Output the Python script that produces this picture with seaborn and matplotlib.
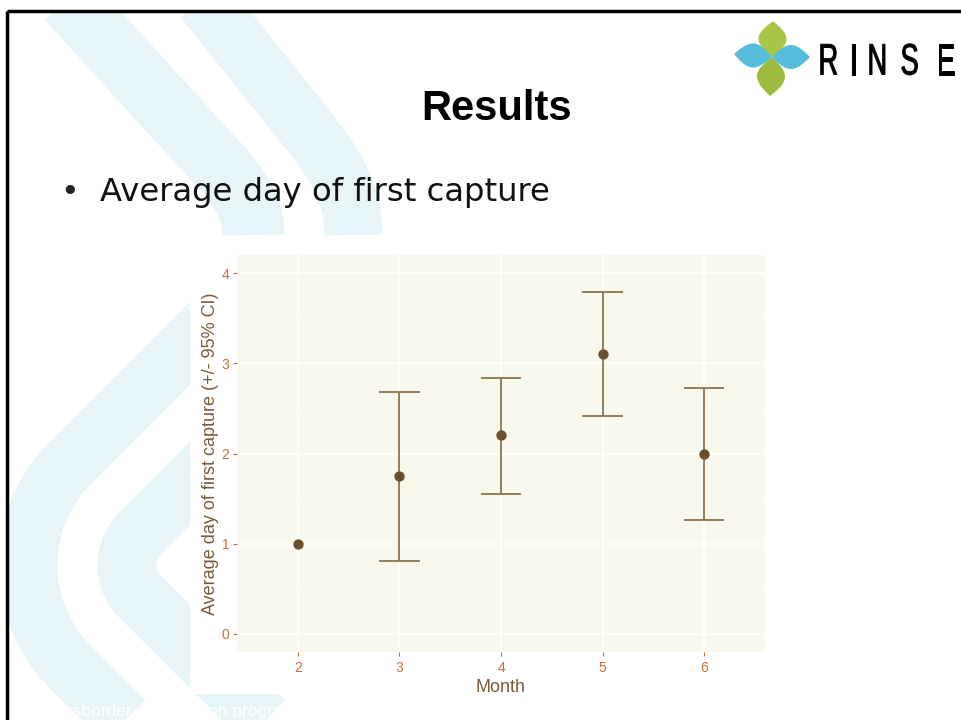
import numpy as np
import pandas as pd
import matplotlib.pyplot as plt
import seaborn as sns
from matplotlib.path import Path
from matplotlib.patches import PathPatch, Rectangle, Polygon
from matplotlib.textpath import TextPath
from matplotlib.font_manager import FontProperties
from matplotlib.transforms import Affine2D
from matplotlib.ticker import MultipleLocator

# Average day of first capture per month (+/- 95% CI); month 2 has no CI
months = ["2", "3", "4", "5", "6"]
mean_day = [1.0, 1.75, 2.2, 3.1, 2.0]
ci_low = [np.nan, 0.81, 1.55, 2.42, 1.26]
ci_high = [np.nan, 2.68, 2.84, 3.79, 2.73]
y_ticks = [0, 1, 2, 3, 4]

df = pd.DataFrame({"Month": months, "mean": mean_day, "low": ci_low, "high": ci_high})

sns.set_style("white")
plt.rcParams["font.family"] = ["Liberation Sans", "DejaVu Sans"]

fig = plt.figure(figsize=(9.61, 7.2), dpi=100)

# ---- slide background, drawn in pixel coordinates ----
bg = fig.add_axes([0, 0, 1, 1], zorder=0)
bg.set_xlim(0, 961)
bg.set_ylim(720, 0)
bg.axis("off")

band_col = "#E8F5F8"
px = 0.72  # points per pixel at dpi 100


def stroke(verts, codes, width, clip):
    p = PathPatch(Path(verts, codes), fill=False, edgecolor=band_col,
                  linewidth=width * px, capstyle="butt", joinstyle="round")
    bg.add_patch(p)
    p.set_clip_path(clip)


# two bands coming down from the top
top_clip = Rectangle((8, 11), 953, 709, transform=bg.transData)
C4 = Path.CURVE4
stroke([(14, -60), (187, 130), (223, 170), (253.5, 195), (253.5, 235)],
       [Path.MOVETO, Path.LINETO, C4, C4, C4], 62, top_clip)
stroke([(156, -60), (300, 120), (324, 150), (353.5, 185), (353.5, 235)],
       [Path.MOVETO, Path.LINETO, C4, C4, C4], 58, top_clip)

# chevron on the left, cut at the edge of the pasted chart
chev_clip = Polygon([(8, 11), (190, 11), (190, 694), (961, 694), (961, 720), (8, 720)],
                    closed=True, transform=bg.transData)
cx, cy = 172, 565
for r in (45, 144):
    th = np.radians(np.linspace(225, 135, 40))
    arc = np.column_stack([cx + r * np.cos(th), cy + r * np.sin(th)])
    up = arc[0] + 300 * np.array([1, -1])
    lo = arc[-1] + 300 * np.array([1, 1])
    verts = np.vstack([up, arc, lo])
    stroke(verts, [Path.MOVETO] + [Path.LINETO] * (len(verts) - 1), 59, chev_clip)

# footer text (white, mostly on the cyan bands)
bg.text(36, 716, "Crossborder cooperation programme", color="white",
        fontsize=12.5, va="baseline", ha="left")

# white area of the pasted chart picture
bg.add_patch(Rectangle((190, 250), 582, 444, facecolor="white", edgecolor="none"))

# slide border
bg.plot([7, 961], [11, 11], color="black", lw=2.5, solid_capstyle="butt")
bg.plot([7, 7], [11, 720], color="black", lw=2.5, solid_capstyle="butt")


# logo
def leaf(p0, p1, w, col):
    p0, p1 = np.array(p0, float), np.array(p1, float)
    d = p1 - p0
    n = np.array([-d[1], d[0]]) / np.hypot(*d)
    t = np.linspace(0, 1, 30)
    half = w / 2 * np.sin(np.pi * t)
    side1 = p0 + np.outer(t, d) + np.outer(half, n)
    side2 = p0 + np.outer(t, d) - np.outer(half, n)
    bg.add_patch(Polygon(np.vstack([side1, side2[::-1]]), closed=True,
                         facecolor=col, edgecolor="none"))


leaf((773, 21), (772, 57), 28, "#A9C548")
leaf((770, 96), (772, 57), 28, "#9DBB3C")
leaf((734, 54), (772, 57), 24, "#55BCDB")
leaf((810, 57), (772, 57), 24, "#55BCDB")

# condensed, widely spaced "RINSE"
logo_font = FontProperties(family="Liberation Sans")
for ch, x_left in zip("RINSE", [818, 849, 867, 900, 936]):
    tp = TextPath((0, 0), ch, size=44, prop=logo_font)
    xmin = tp.vertices[:, 0].min()
    tr = Affine2D().translate(-xmin, 0).scale(0.62, -1).translate(x_left + 0.5, 74.5)
    bg.add_patch(PathPatch(tr.transform_path(tp), facecolor="black",
                           edgecolor="black", linewidth=0.7))

# slide title and bullet
bg.text(497, 120, "Results", fontsize=30, fontweight="bold", ha="center",
        va="baseline", color="black")
bg.text(60, 201, "•", fontsize=23, family="DejaVu Sans", va="baseline")
bg.text(100, 201, "Average day of first capture", fontsize=23.2,
        family="DejaVu Sans", va="baseline", color="#111111")

# ---- the chart ----
ax = fig.add_axes([237 / 961, 1 - 652 / 720, 528 / 961, 397 / 720], zorder=2)
ax.set_facecolor("#F8F8EC")

err_col = "#8C7550"
pos = np.arange(len(months))
ok = ~df["low"].isna().to_numpy()
ax.vlines(pos[ok], df["low"][ok], df["high"][ok], color=err_col, lw=1.3, zorder=3)
ax.hlines(df["low"][ok], pos[ok] - 0.2, pos[ok] + 0.2, color=err_col, lw=1.3, zorder=3)
ax.hlines(df["high"][ok], pos[ok] - 0.2, pos[ok] + 0.2, color=err_col, lw=1.3, zorder=3)

sns.scatterplot(data=df, x="Month", y="mean", ax=ax, color="#6B4F2C", s=55,
                linewidth=0, zorder=4)

ax.set_xlim(-0.6, len(months) - 0.4)
ax.set_ylim(-0.2, 4.2)
ax.set_yticks(y_ticks)
ax.yaxis.set_minor_locator(MultipleLocator(0.5))
ax.grid(which="major", color="white", lw=1.1)
ax.grid(which="minor", axis="y", color="white", lw=0.5)
ax.set_axisbelow(True)
for s in ax.spines.values():
    s.set_visible(False)

tick_col = "#C8703E"
ax.tick_params(which="major", direction="out", length=3, width=0.8, color=tick_col,
               labelcolor=tick_col, labelsize=10, pad=3.5, left=True, bottom=True)
ax.tick_params(axis="y", which="major", pad=2.5)
ax.tick_params(which="minor", length=0)

lab_col = "#7A5C3A"
ax.set_xlabel("Month", color=lab_col, fontsize=13, labelpad=3)
ax.set_ylabel("Average day of first capture (+/- 95% CI)", color=lab_col,
              fontsize=13, labelpad=2)

fig.savefig("out.png", dpi=100)
